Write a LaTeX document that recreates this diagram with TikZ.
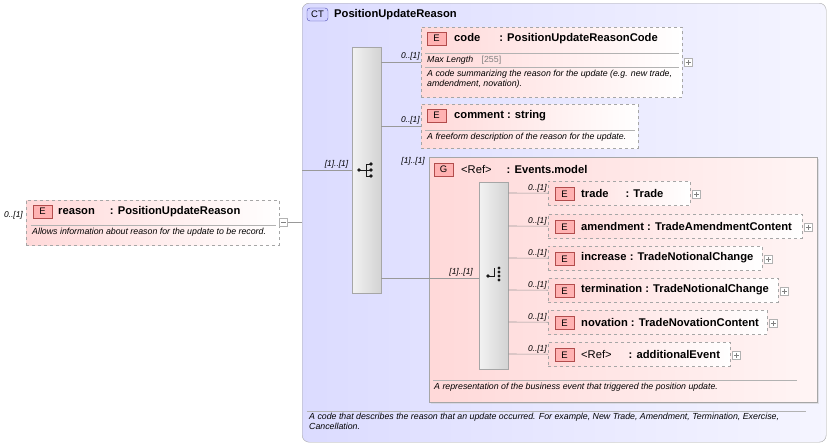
\documentclass[tikz,border=0pt]{standalone}
\usepackage{fontspec}
\setmainfont{Liberation Sans}
\usetikzlibrary{shadows,calc}
\begin{document}
\begin{tikzpicture}[x=1pt,y=-1pt,
  ebox/.style={draw=gray!70,dashed,left color=red!15,right color=white,anchor=north west,inner sep=0pt},
  gbox/.style={draw=gray!70,left color=red!15,right color=red!4,anchor=north west,inner sep=0pt,drop shadow={shadow xshift=2pt,shadow yshift=-2pt,fill=gray!40}},
  seq/.style={draw=gray!70,left color=gray!10,right color=gray!35,anchor=north west,inner sep=0pt},
  badge/.style={draw=red!40!gray,fill=red!30,minimum width=19pt,minimum height=13pt,inner sep=0pt,font=\fontsize{9.5}{10}\selectfont},
  ttl/.style={anchor=west,inner sep=0pt,font=\fontsize{11.2}{12}\selectfont\bfseries},
  dsc/.style={anchor=north west,inner sep=0pt,font=\fontsize{8.8}{10}\selectfont\itshape,align=left},
  card/.style={anchor=south east,inner sep=1pt,font=\fontsize{8.4}{9}\selectfont\itshape},
  pm/.style={draw=gray!60,fill=white,minimum size=8pt,inner sep=0pt},
  ln/.style={draw=gray!80,line width=0.6pt},
  ic/.style={draw=gray!20!black,line width=0.8pt},
  sep/.style={draw=gray!60}]
\useasboundingbox (0,0) rectangle (830,445);
% CT box
\node[draw=gray!70,rounded corners=7pt,left color=blue!14,right color=blue!4,anchor=north west,minimum width=524pt,minimum height=439pt,inner sep=0pt] (ct) at (302,3) {};
\node[draw=blue!40!gray,fill=blue!18,rounded corners=3pt,minimum width=21pt,minimum height=13pt,inner sep=0pt,font=\fontsize{9.5}{10}\selectfont] (ctb) at (317.5,14.5) {CT};
\node[ttl] (ctt) at (334,14.5) {PositionUpdateReason};
\draw[sep] (307,411) -- (806,411);
\node[dsc] (ctd) at (309,413) {A code that describes the reason that an update occurred. For example, New Trade, Amendment, Termination, Exercise,\\Cancellation.};
% reason
\node[ebox,minimum width=253pt,minimum height=45pt] (rs) at (26,200) {};
\node[badge] (rsb) at (42.5,211.5) {E};
\node[ttl] (rst) at (58,211.5) {reason\hspace{15pt}: PositionUpdateReason};
\draw[sep] (31,225) -- (276,225);
\node[dsc] (rsd) at (32,228) {Allows information about reason for the update to be record.};
\node[card,anchor=east] (rsc) at (24,215) {0..[1]};
\node[pm] (rsm) at (283.5,222) {};
\draw[gray] ($(rsm)+(-2.5,0)$) -- ($(rsm)+(2.5,0)$);
% sequence 1
\node[seq,minimum width=29pt,minimum height=246pt] (s1) at (352,47) {};
\draw[ln] (rsm.east) -- (302,222);
\draw[ln] (302,170) -- (352,170) node[card,pos=0.95] {[1]..[1]};
% code
\node[ebox,minimum width=261pt,minimum height=70pt] (cd) at (421,27) {};
\node[badge] (cdb) at (436.5,38.5) {E};
\node[ttl] (cdt) at (454,38.5) {code\hspace{19pt}: PositionUpdateReasonCode};
\draw[sep] (425,53) -- (679,53);
\node[dsc] (cdm) at (427,55.5) {Max Length \hspace{6pt}{\upshape\color{gray}[255]}};
\draw[sep] (425,67) -- (679,67);
\node[dsc] (cdd) at (427,69.5) {A code summarizing the reason for the update (e.g. new trade,\\amdendment, novation).};
\node[pm] (cdp) at (688,62) {};
\draw[gray] ($(cdp)+(-2.5,0)$) -- ($(cdp)+(2.5,0)$) ($(cdp)+(0,-2.5)$) -- ($(cdp)+(0,2.5)$);
\draw[ln] (381,62) -- (cd.west |- 0,62) node[card] {0..[1]};
% comment
\node[ebox,minimum width=217pt,minimum height=44pt] (cm) at (421,104) {};
\node[badge] (cmb) at (436.5,115.5) {E};
\node[ttl] (cmt) at (454,115.5) {comment : string};
\draw[sep] (425,130) -- (635,130);
\node[dsc] (cmd) at (427,133) {A freeform description of the reason for the update.};
\draw[ln] (381,126) -- (421,126) node[card] {0..[1]};
% group
\node[gbox,minimum width=388pt,minimum height=245pt] (gr) at (429,157) {};
\node[card,anchor=east] (grc) at (426,161) {[1]..[1]};
\node[badge] (grb) at (443.5,169.5) {G};
\node[ttl,font=\fontsize{11.2}{12}\selectfont] (grt) at (461,169.5) {<Ref>\hspace{15pt}{\bfseries: Events.model}};
\draw[sep] (433,380) -- (797,380);
\node[dsc] (grd) at (434,383) {A representation of the business event that triggered the position update.};
\node[seq,minimum width=29pt,minimum height=187pt] (s2) at (479,182) {};
\draw[ln] (381,278) -- (479,278) node[card,pos=0.95] {[1]..[1]};
\foreach \n/\y/\w/\t in {tr/193/142/{trade\hspace{17pt}: Trade},am/226/254/{amendment : TradeAmendmentContent},in/258/214/{increase : TradeNotionalChange},te/290/230/{termination : TradeNotionalChange},no/322/219/{novation : TradeNovationContent},ad/354/182/{{\mdseries<Ref>}\hspace{17pt}: additionalEvent}} {
  \node[ebox,minimum width=\w pt,minimum height=24pt] (\n) at (548,\y-12) {};
  \node[badge] (\n b) at (564.5,\y+1) {E};
  \node[ttl] (\n t) at (581,\y) {\t};
  \node[pm] (\n p) at ($(\n.east)+(6,1)$) {};
  \draw[gray] ($(\n p)+(-2.5,0)$) -- ($(\n p)+(2.5,0)$) ($(\n p)+(0,-2.5)$) -- ($(\n p)+(0,2.5)$);
  \draw[ln] (508,\y) -- (\n.west) node[card] {0..[1]};
}
% icons
\draw[ic] (359,170) -- (366,170) (366,164) -- (366,176) (366,164) -- (371,164) (366,176) -- (371,176) (366,170) -- (371,170);
\fill[gray!20!black] (359,170) circle (1.8pt);
\foreach \dy in {-6,0,6} {\fill[gray!20!black] (371,170+\dy) circle (1.8pt);}
\draw[ic] (488,276) -- (494,276) -- (494,268);
\fill[gray!20!black] (488,276) circle (1.8pt);
\foreach \dy in {-6,-2,2,6} {\fill[gray!20!black] (499,274+\dy) circle (1.6pt);}
\end{tikzpicture}
\end{document}
